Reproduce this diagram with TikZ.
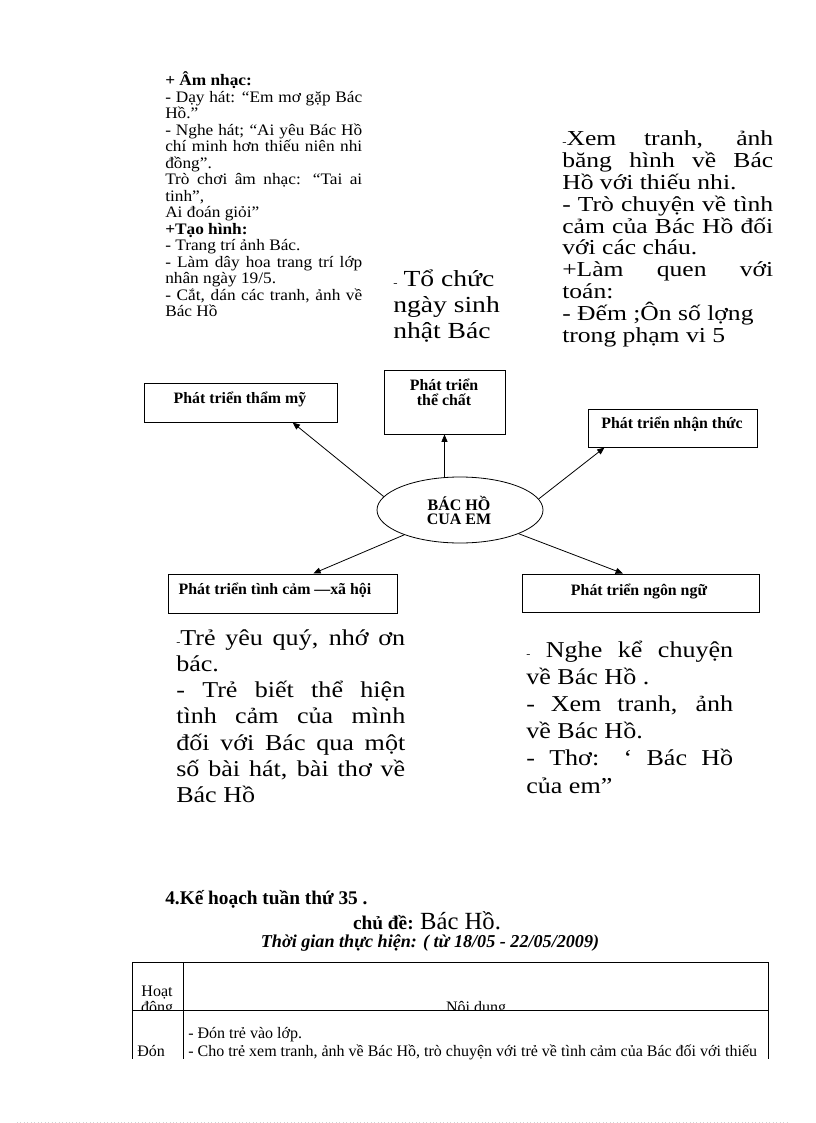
\documentclass[tikz,border=0pt]{standalone}
\usepackage{fontspec}
\setmainfont{Liberation Serif}
\newfontfamily\wA[FakeStretch=1.08]{Liberation Serif}
\newfontfamily\wB[FakeStretch=1.2]{Liberation Serif}
\newfontfamily\wD[FakeStretch=1.15]{Liberation Serif}
\usetikzlibrary{arrows.meta,shapes.geometric}
\newdimen\pxu \pxu=0.75pt
\newcommand\JL[2]{\hbox to #1{#2}}
\newcommand\NL[1]{\hbox{#1}}
\newcommand\smalldash{{\fontsize{8}{8}\selectfont -}}
\tikzset{
  box/.style={draw, line width=0.75pt, rectangle, inner sep=0pt},
  boxtxt/.style={anchor=base, inner sep=0pt, font=\bfseries\fontsize{11.9}{11}\selectfont},
  txt/.style={anchor=base west, inner sep=0pt},
  arr/.style={line width=0.6pt, -{Triangle[length=5.5pt,width=4.5pt]}},
  tline/.style={line width=0.75pt}
}
\begin{document}
\begin{tikzpicture}[x=0.75pt, y=-0.75pt]
\useasboundingbox (0,0) rectangle (816,1123);
\lineskiplimit=-100pt

% block 1 (top left)
\node[txt] (blk1) at (165,86) {\wA\fontsize{12}{12}\selectfont\vtop{\lineskiplimit=-100pt\baselineskip=16.5\pxu
 \NL{\bfseries + Âm nhạc:}
 \JL{197\pxu}{- Dạy hát: “Em mơ gặp Bác}
 \NL{Hồ.”}
 \JL{197\pxu}{- Nghe hát; “Ai yêu Bác Hồ}
 \JL{197\pxu}{chí minh hơn thiếu niên nhi}
 \NL{đồng”.}
 \JL{197\pxu}{Trò chơi âm nhạc: “Tai ai}
 \NL{tinh”,}
 \NL{Ai đoán giỏi”}
 \NL{\bfseries +Tạo hình:}
 \NL{- Trang trí ảnh Bác.}
 \JL{197\pxu}{- Làm dây hoa trang trí lớp}
 \NL{nhân ngày 19/5.}
 \JL{197\pxu}{- Cắt, dán các tranh, ảnh về}
 \NL{Bác Hồ}}};

% block 2 (middle)
\node[txt] (blk2) at (393,286) {\wB\fontsize{17.25}{18}\selectfont\vtop{\lineskiplimit=-100pt\baselineskip=26.5\pxu
 \NL{\smalldash\hspace{6\pxu}Tổ chức}
 \NL{ngày sinh}
 \NL{nhật Bác}}};

% block 3 (top right)
\node[txt] (blk3) at (562,146) {\wB\fontsize{16}{16}\selectfont\vtop{\lineskiplimit=-100pt\baselineskip=21.8\pxu
 \JL{211\pxu}{\smalldash Xem tranh, ảnh}
 \JL{211\pxu}{băng hình về Bác}
 \NL{Hồ với thiếu nhi.}
 \JL{211\pxu}{- Trò chuyện về tình}
 \JL{211\pxu}{cảm của Bác Hồ đối}
 \NL{với các cháu.}
 \JL{211\pxu}{+Làm quen với}
 \NL{toán:}
 \NL{- Đếm ;Ôn số lợng}
 \NL{trong phạm vi 5}}};

% block 4 (bottom left)
\node[txt] (blk4) at (176,645) {\wD\fontsize{17}{17}\selectfont\vtop{\lineskiplimit=-100pt\baselineskip=26.3\pxu
 \JL{229\pxu}{\smalldash Trẻ yêu quý, nhớ ơn}
 \NL{bác.}
 \JL{229\pxu}{- Trẻ biết thể hiện}
 \JL{229\pxu}{tình cảm của mình}
 \JL{229\pxu}{đối với Bác qua một}
 \JL{229\pxu}{số bài hát, bài thơ về}
 \NL{Bác Hồ}}};

% block 5 (bottom right)
\node[txt] (blk5) at (526,657) {\wD\fontsize{17}{17}\selectfont\vtop{\lineskiplimit=-100pt\baselineskip=27.2\pxu
 \JL{207\pxu}{\smalldash\ Nghe kể chuyện}
 \NL{về Bác Hồ .}
 \JL{207\pxu}{- Xem tranh, ảnh}
 \NL{về Bác Hồ.}
 \JL{207\pxu}{- Thơ: ‘ Bác Hồ}
 \NL{của em”}}};

% boxes
\node[box, minimum width=193*0.75pt, minimum height=39*0.75pt] (b1) at (240.5,402.5) {};
\node[box, minimum width=121*0.75pt, minimum height=64*0.75pt] (b2) at (444.5,402) {};
\node[box, minimum width=169*0.75pt, minimum height=38*0.75pt] (b3) at (672.5,428) {};
\node[box, minimum width=229*0.75pt, minimum height=39*0.75pt] (b4) at (282.5,593.5) {};
\node[box, minimum width=237*0.75pt, minimum height=38*0.75pt] (b5) at (640.5,593) {};

\node[boxtxt] (t1) at (240,403) {Phát triển thẩm mỹ};
\node[boxtxt] (t2a) at (444,390) {Phát triển};
\node[boxtxt] (t2b) at (444,405) {thể chất};
\node[boxtxt] (t3) at (672,428) {Phát triển nhận thức};
\node[boxtxt] (t4) at (275,594) {Phát triển tình cảm —xã hội};
\node[boxtxt] (t5) at (639,595) {Phát triển ngôn ngữ};

% ellipse
\node[ellipse, draw, line width=0.6pt, minimum width=166*0.75pt, minimum height=66*0.75pt, inner sep=0pt] (ell) at (460,510) {};
\node[boxtxt, font=\bfseries\fontsize{12}{11}\selectfont] (e1) at (459,510) {BÁC HỒ};
\node[boxtxt, font=\bfseries\fontsize{12}{11}\selectfont] (e2) at (459,524) {CUA EM};

% arrows
\draw[arr] (ell.170) -- (b1.339.3);
\draw[arr] (ell.north -| b2.south) -- (b2.south);
\draw[arr] (ell.8.5) -- (b3.196);
\draw[arr] (ell.204) -- (b4.33.5);
\draw[arr] (ell.338) -- (b5.132.6);

% headings
\node[txt, font=\bfseries\fontsize{14.5}{16}\selectfont] (h1) at (165,904) {4.Kế hoạch tuần thứ 35 .};
\node[anchor=base, inner sep=0pt] (h2) at (427,929) {{\bfseries\fontsize{14.5}{16}\selectfont chủ đề: }{\fontsize{18.5}{20}\selectfont Bác Hồ.}};
\node[anchor=base, inner sep=0pt, font=\bfseries\itshape\fontsize{13.6}{16}\selectfont] (h3) at (430,947) {Thời gian thực hiện: ( từ 18/05 - 22/05/2009)};

% table
\coordinate (tl) at (132,962);
\coordinate (tm) at (183,962);
\coordinate (tr) at (768,962);
\coordinate (ml) at (132,1010);
\coordinate (mr) at (768,1010);
\coordinate (bl) at (132,1059);
\coordinate (bm) at (183,1059);
\coordinate (br) at (768,1059);
\begin{scope}
\clip (132,962) rectangle (768,1010);
\node[anchor=base, inner sep=0pt, font=\fontsize{12}{13}\selectfont] (c1a) at (157,996) {Hoạt};
\node[anchor=base, inner sep=0pt, font=\fontsize{12}{13}\selectfont] (c1b) at (157,1012) {động};
\node[anchor=base, inner sep=0pt, font=\fontsize{12}{13}\selectfont] (c2) at (476,1012) {Nội dung};
\end{scope}
\draw[tline] (tl) -- (tr);
\draw[tline] (ml) -- (mr);
\draw[tline] (tl) -- (bl);
\draw[tline] (tm) -- (bm);
\draw[tline] (tr) -- (br);
\node[txt, font=\fontsize{12}{13}\selectfont] (r1) at (188,1038) {- Đón trẻ vào lớp.};
\node[txt, font=\fontsize{12}{13}\selectfont] (r2) at (188,1056) {- Cho trẻ xem tranh, ảnh về Bác Hồ, trò chuyện với trẻ về tình cảm của Bác đối với thiếu};
\node[txt, font=\fontsize{12}{13}\selectfont] (r0) at (137,1056) {Đón};

% page-break dots
\draw[gray!35, dotted, line width=0.6pt] (17,1122) -- (790,1122);
\end{tikzpicture}
\end{document}
